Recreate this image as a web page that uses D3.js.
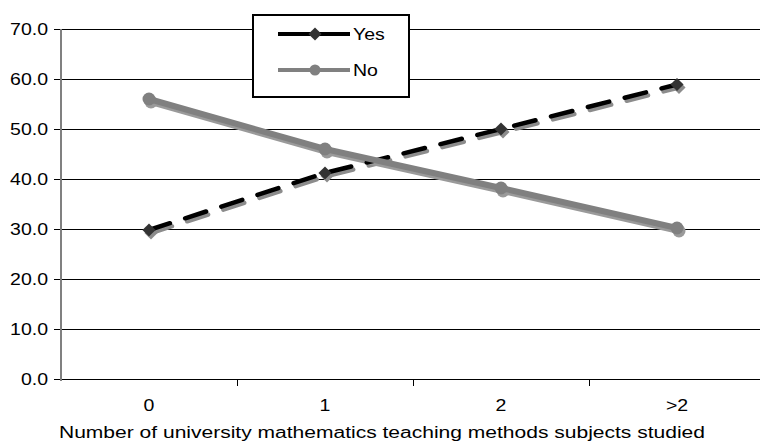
<!DOCTYPE html>
<html>
<head>
<meta charset="utf-8">
<script src="https://cdn.jsdelivr.net/npm/d3@7"></script>
<style>
  body { margin: 0; background: #fff; }
  text { font-family: "Liberation Sans", Arial, sans-serif; font-size: 16px; fill: #000; }
</style>
</head>
<body>
<svg width="760" height="441"></svg>
<script>
// data
var categories = ["0", "1", "2", ">2"];
var yesValues = [29.8, 41.2, 50.0, 58.9];
var noValues = [56.0, 46.0, 38.2, 30.2];
var yTicks = [0, 10, 20, 30, 40, 50, 60, 70];

var svg = d3.select("svg");
var SX = 1.22; // text in the original is a bit stretched sideways

var x = d3.scaleBand().domain(categories).range([61, 765]);
var y = d3.scaleLinear().domain([0, 70]).range([379, 29]);
function cx(d, i) { return x(categories[i]) + x.bandwidth() / 2; }
function place(px, py) { return "translate(" + px + "," + py + ") scale(" + SX + ",1)"; }

// gridlines
svg.append("g")
    .selectAll("line")
    .data(yTicks)
    .enter().append("line")
    .attr("x1", 54).attr("x2", 765)
    .attr("y1", function (d) { return y(d) + 0.5; })
    .attr("y2", function (d) { return y(d) + 0.5; })
    .attr("stroke", "#000").attr("stroke-width", 1);

// y labels
svg.append("g")
    .selectAll("text")
    .data(yTicks)
    .enter().append("text")
    .attr("transform", function (d) { return place(48, y(d) + 6); })
    .attr("text-anchor", "end")
    .text(function (d) { return d.toFixed(1); });

// y axis line
svg.append("line")
    .attr("x1", 61).attr("x2", 61).attr("y1", 29).attr("y2", 381)
    .attr("stroke", "#808080").attr("stroke-width", 2);

// x ticks between categories
svg.append("g")
    .selectAll("line")
    .data(categories.slice(1))
    .enter().append("line")
    .attr("x1", function (d) { return Math.round(x(d)) + 0.5; })
    .attr("x2", function (d) { return Math.round(x(d)) + 0.5; })
    .attr("y1", 379).attr("y2", 386)
    .attr("stroke", "#000");

svg.append("g")
    .selectAll("text")
    .data(categories)
    .enter().append("text")
    .attr("transform", function (d) { return place(x(d) + x.bandwidth() / 2, 411); })
    .attr("text-anchor", "middle")
    .text(function (d) { return d; });

svg.append("text")
    .attr("x", 59).attr("y", 438)
    .attr("textLength", 646).attr("lengthAdjust", "spacingAndGlyphs")
    .text("Number of university mathematics teaching methods subjects studied");

var line = d3.line().x(cx).y(function (d) { return y(d); });

function diamond(g, fill) {
    g.selectAll(null)
        .data(yesValues)
        .enter().append("path")
        .attr("d", d3.symbol().type(d3.symbolDiamond2).size(110))
        .attr("transform", function (d, i) {
            return "translate(" + cx(d, i) + "," + y(d) + ")";
        })
        .attr("fill", fill);
}
function circles(g, fill) {
    g.selectAll(null)
        .data(noValues)
        .enter().append("circle")
        .attr("cx", cx)
        .attr("cy", function (d) { return y(d); })
        .attr("r", 6.5)
        .attr("fill", fill);
}

// shadows
var sh = svg.append("g").attr("transform", "translate(2,3)");
sh.append("path").datum(yesValues).attr("d", line)
    .attr("fill", "none").attr("stroke", "#8c8c8c").attr("stroke-width", 4.5)
    .attr("stroke-dasharray", "22,16").attr("stroke-linecap", "round");
diamond(sh, "#8c8c8c");
sh.append("path").datum(noValues).attr("d", line)
    .attr("fill", "none").attr("stroke", "#9a9a9a").attr("stroke-width", 6);
circles(sh, "#9a9a9a");

// Yes series
svg.append("path").datum(yesValues).attr("d", line)
    .attr("fill", "none").attr("stroke", "#000").attr("stroke-width", 4.5)
    .attr("stroke-dasharray", "22,16").attr("stroke-linecap", "round");
diamond(svg, "#333");

// No series
svg.append("path").datum(noValues).attr("d", line)
    .attr("fill", "none").attr("stroke", "#808080").attr("stroke-width", 6);
circles(svg, "#808080");

// legend
var lg = svg.append("g");
lg.append("rect").attr("x", 253).attr("y", 15).attr("width", 156).attr("height", 82)
    .attr("fill", "#fff").attr("stroke", "#000").attr("stroke-width", 2);
lg.append("line").attr("x1", 278).attr("x2", 350).attr("y1", 34).attr("y2", 34)
    .attr("stroke", "#000").attr("stroke-width", 4);
lg.append("path").attr("d", d3.symbol().type(d3.symbolDiamond2).size(110))
    .attr("transform", "translate(315,34)").attr("fill", "#333");
lg.append("text").attr("transform", place(353, 40)).text("Yes");
lg.append("line").attr("x1", 278).attr("x2", 350).attr("y1", 70).attr("y2", 70)
    .attr("stroke", "#808080").attr("stroke-width", 4);
lg.append("circle").attr("cx", 315).attr("cy", 70).attr("r", 5.5).attr("fill", "#808080");
lg.append("text").attr("transform", place(353, 76)).text("No");
</script>
</body>
</html>
